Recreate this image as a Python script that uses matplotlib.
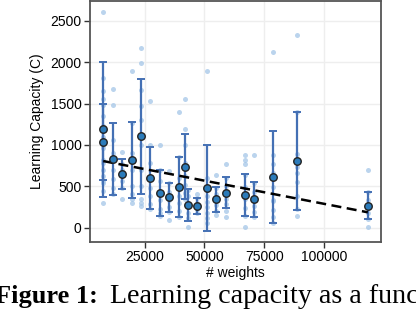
import matplotlib
matplotlib.use("Agg")
import matplotlib.pyplot as plt
import numpy as np

# group sizes (# weights), mean capacity, std and individual runs
weights = [7700, 7700, 11630, 15520, 19570, 23460, 27350, 31410, 35300, 39230,
           41870, 43120, 47010, 50940, 54960, 58890, 66960, 70850, 78670,
           88830, 118280]
means = [1187, 1034, 828, 647, 817, 1102, 601, 422, 365, 494,
         738, 269, 264, 480, 340, 421, 391, 340, 613, 808, 263]
stds = [822, 458, 440, 185, 455, 690, 375, 280, 178, 365,
        390, 195, 98, 520, 147, 187, 253, 211, 556, 595, 165]
runs = [
    [2610, 1815, 1650, 1560, 1350, 1190, 1000, 780, 560, 440, 292],
    [1480, 1230, 1100, 960, 820, 700, 620, 540],
    [1673, 1487, 1060, 900, 700, 585, 480, 400],
    [917, 775, 700, 560, 480, 343],
    [1898, 1270, 900, 700, 500, 410, 344, 300],
    [2177, 1987, 1660, 1470, 1300, 1000, 700, 500, 350, 300, 260],
    [1535, 995, 780, 600, 480, 380, 280, 230],
    [998, 700, 560, 420, 330, 230, 170, 140],
    [687, 540, 430, 330, 250, 191, 90],
    [1395, 850, 600, 480, 380, 300, 200, 127],
    [1553, 1187, 1000, 780, 620, 520, 420, 340],
    [460, 380, 300, 250, 180, 110, 10],
    [410, 360, 300, 260, 220, 170],
    [1892, 600, 450, 380, 310, 250, 180, 120, 60],
    [633, 480, 400, 330, 270, 200, 150],
    [775, 600, 500, 420, 340, 280, 200, 122],
    [880, 817, 775, 635, 494, 340, 232, 140, 6],
    [884, 540, 430, 340, 260, 190, 130],
    [2130, 875, 765, 656, 494, 333, 320, 212, 123, 58],
    [2325, 1400, 887, 735, 656, 554, 381, 220, 139],
    [702, 430, 333, 172, 100, 6],
]
# linear fit: capacity = fit_a + fit_b * weights
fit_a = 848
fit_b = -0.00561

plt.rcParams['font.family'] = ['Liberation Sans', 'DejaVu Sans']
plt.rcParams['font.size'] = 10

fig = plt.figure(figsize=(4.16, 3.10), dpi=100)
ax = fig.add_axes([90/416, 1 - 242/310, 291/416, 241.5/310])

for w, r in zip(weights, runs):
    ax.scatter([w]*len(r), r, s=13, color='#a4c6e8', alpha=0.75,
               linewidths=0, zorder=2)

ax.errorbar(weights, means, yerr=stds, fmt='none', ecolor='#4470b4',
            elinewidth=1.6, capsize=3, capthick=1.4, zorder=3)

xs = np.array([min(weights), max(weights)])
ax.plot(xs, fit_a + fit_b*xs, color='black', ls=(0, (4, 2.2)), lw=1.8, zorder=4)

ax.plot(weights, means, 'o', ms=5.4, mfc='#2b7bba', mec='#222222', mew=1.0,
        zorder=5)

ax.set_xlim(2170, 123800)
ax.set_ylim(-175, 2748)
ax.set_xticks([25000, 50000, 75000, 100000])
ax.set_yticks([0, 500, 1000, 1500, 2000, 2500])
ax.grid(True, color='#eeeeee', lw=1)
ax.set_axisbelow(True)
for s in ax.spines.values():
    s.set_color('#555555')
    s.set_linewidth(1.3)
ax.tick_params(direction='out', length=4, width=1, color='#333333',
               labelsize=10, pad=2)
ax.set_xlabel('# weights', fontsize=10, labelpad=1)
ax.set_ylabel('Learning Capacity (C)', fontsize=10, labelpad=5)

fig.text(-5/416, 1 - 303/310, 'Figure 1:', family='Liberation Serif',
         weight='bold', fontsize=19)
fig.text(110/416, 1 - 303/310, 'Learning capacity as a function',
         family='Liberation Serif', fontsize=20.2)

fig.savefig('out.png', dpi=100)
